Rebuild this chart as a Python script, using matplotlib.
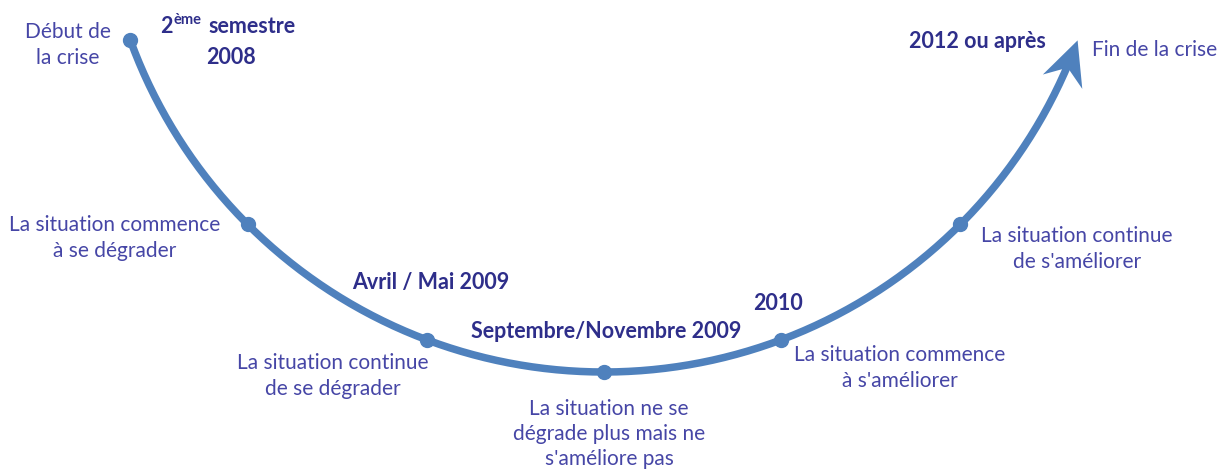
import numpy as np
import matplotlib.pyplot as plt
from matplotlib.patches import Polygon

# milestones along the curve (angle in degrees from the lowest point)
stage_angles = [-70, -45, -20.5, 0, 20.5, 45]
end_angle = 70

dates = ["2ème semestre\n2008", "", "Avril / Mai 2009",
         "Septembre/Novembre 2009", "2010", "2012 ou après"]
states = ["Début de\nla crise",
          "La situation commence\nà se dégrader",
          "La situation continue\nde se dégrader",
          "La situation ne se\ndégrade plus mais ne\ns'améliore pas",
          "La situation commence\nà s'améliorer",
          "La situation continue\nde s'améliorer",
          "Fin de la crise"]

curve_col = '#4f81bd'
text_col = '#4646a6'
bold_col = '#2e2e8a'

cx, cy, r = 604, -132, 504


def on_arc(a):
    t = np.radians(a)
    return cx + r * np.sin(t), cy + r * np.cos(t)


plt.rcParams['font.family'] = ['Lato', 'DejaVu Sans']
fig = plt.figure(figsize=(12.24, 4.70), dpi=100)
ax = fig.add_axes([0, 0, 1, 1])
ax.set_xlim(0, 1224)
ax.set_ylim(470, 0)
ax.axis('off')

# arrow head geometry from the tangent at the end of the arc
tip = np.array(on_arc(end_angle))
t = np.radians(end_angle)
fwd = np.array([np.cos(t), -np.sin(t)])
side = np.array([np.sin(t), np.cos(t)])
head = [tip, tip - 44 * fwd - 21 * side, tip - 29 * fwd,
        tip - 44 * fwd + 21 * side]

# arc up to the notch of the arrow head
notch_angle = end_angle - np.degrees(27 / r)
a = np.linspace(stage_angles[0], notch_angle, 300)
x, y = on_arc(a)
ax.plot(x, y, color=curve_col, lw=5.4, solid_capstyle='butt')
ax.add_patch(Polygon(head, closed=True, color=curve_col, lw=0))

# milestone dots
mx, my = on_arc(np.array(stage_angles))
ax.plot(mx, my, 'o', color=curve_col, ms=10, lw=0)

fs = 15
bfs = 15.5
ls = 1.32
# state labels
ax.text(68, 45, states[0], ha='center', va='center', color=text_col,
        fontsize=fs, linespacing=ls)
ax.text(115, 238, states[1], ha='center', va='center', color=text_col,
        fontsize=fs, linespacing=ls)
ax.text(333, 376, states[2], ha='center', va='center', color=text_col,
        fontsize=fs, linespacing=ls)
ax.text(609, 434, states[3], ha='center', va='center', color=text_col,
        fontsize=fs, linespacing=ls)
ax.text(900, 368, states[4], ha='center', va='center', color=text_col,
        fontsize=fs, linespacing=ls)
ax.text(1077, 249, states[5], ha='center', va='center', color=text_col,
        fontsize=fs, linespacing=ls)
ax.text(1092, 50, states[6], ha='left', va='center', color=text_col,
        fontsize=fs)

# date labels (bold)
t2 = ax.text(160, 33, "2", ha='left', va='baseline', color=bold_col,
             fontsize=bfs, fontweight='bold')
tsup = ax.annotate("ème", xy=(1, 1), xycoords=t2, xytext=(1, 2),
                   textcoords='offset points', ha='left', va='top',
                   color=bold_col, fontsize=bfs - 5, fontweight='bold')
ax.annotate("semestre", xy=(1, 0), xycoords=(tsup, t2), xytext=(5, 0),
            textcoords='offset points', ha='left', va='bottom',
            color=bold_col, fontsize=bfs, fontweight='bold')
ax.text(231, 57, "2008", ha='center', va='center', color=bold_col,
        fontsize=bfs, fontweight='bold')
ax.text(431, 283, dates[2], ha='center', va='center', color=bold_col,
        fontsize=bfs, fontweight='bold')
ax.text(606, 332, dates[3], ha='center', va='center', color=bold_col,
        fontsize=bfs, fontweight='bold')
ax.text(778, 303, dates[4], ha='center', va='center', color=bold_col,
        fontsize=bfs, fontweight='bold')
ax.text(977, 42, dates[5], ha='center', va='center', color=bold_col,
        fontsize=bfs, fontweight='bold')

fig.savefig('out.png', dpi=100)
